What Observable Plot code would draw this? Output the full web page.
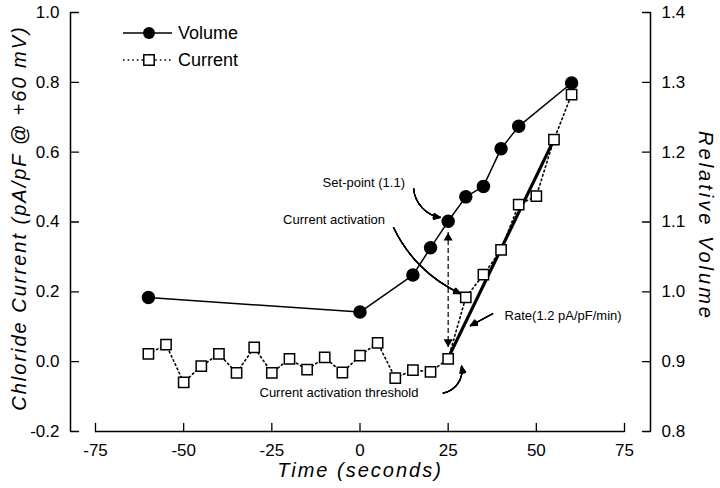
<!DOCTYPE html>
<html><head><meta charset="utf-8">
<script src="https://cdn.jsdelivr.net/npm/d3@7"></script>
<script src="https://cdn.jsdelivr.net/npm/@observablehq/plot@0.6"></script>
<style>
body{margin:0;background:#fff;}
#wrap{position:relative;width:720px;height:488px;font-family:"Liberation Sans",Arial,sans-serif;}
#legend{position:absolute;left:0;top:0;}
</style></head><body>
<div id="wrap"></div>
<script>
// ---- data ----
const currentTime = [-60,-55,-50,-45,-40,-35,-30,-25,-20,-15,-10,-5,0,5,10,15,20,25,30,35,40,45,50,55,60];
const currentValues = [0.022,0.049,-0.059,-0.013,0.022,-0.032,0.041,-0.032,0.008,-0.023,0.012,-0.031,0.017,0.054,-0.047,-0.024,-0.029,0.008,0.184,0.249,0.320,0.450,0.474,0.636,0.765];
const volumeTime = [-60,0,15,20,25,30,35,40,45,60];
const volumeValues = [0.992,0.971,1.024,1.063,1.101,1.136,1.151,1.205,1.237,1.299];
const rateTime = [25,55];
const rateValues = [0.01,0.636];
const xTicks = [-75,-50,-25,0,25,50,75];
const currentTicks = [-0.2,0.0,0.2,0.4,0.6,0.8,1.0];
const volumeTicks = [0.8,0.9,1.0,1.1,1.2,1.3,1.4];
const legendLabels = ["Volume","Current"];
const xTitle = "Time (seconds)";
const yTitle = "Chloride Current (pA/pF @ +60 mV)";
const y2Title = "Relative Volume";
const noteText = ["Set-point (1.1)","Current activation","Rate(1.2 pA/pF/min)","Current activation threshold"];
const noteTime = [-10.6,-21.8,41.0,-28.5];
const noteValue = [0.513,0.407,0.130,-0.088];
// curved / straight arrows: start (t1,c1) -> end (t2,c2)
const arrowT1 = [15.2, 9.5, 23.6, 37.6];
const arrowC1 = [0.496, 0.384, -0.090, 0.137];
const arrowT2 = [22.8, 28.5, 28.8, 31.3];
const arrowC2 = [0.413, 0.195, -0.013, 0.103];
const arrowBend = [-38, -20, -45, 0];
// dashed double arrow between volume set-point and current threshold
const dashT = 25;
const dashTop = 0.370;
const dashBottom = 0.041;

// ---- derived tables ----
const volToY = v => 2 * (v - 0.9);   // right axis (relative volume) -> left axis units
const current = currentTime.map((t,i)=>({t, c: currentValues[i]}));
const volume = volumeTime.map((t,i)=>({t, c: volToY(volumeValues[i])}));
const rate = rateTime.map((t,i)=>({t, c: rateValues[i]}));
const notes = noteText.map((s,i)=>({s, t: noteTime[i], c: noteValue[i]}));
const arrows = arrowT1.map((t,i)=>({t1:t, c1:arrowC1[i], t2:arrowT2[i], c2:arrowC2[i], bend:arrowBend[i]}));

const headFan = [10, 20, 30, 40, 50];
const arrowMarks = [
  Plot.ruleX([dashT], {y1: dashTop, y2: dashBottom, stroke: "black", strokeWidth: 1.2, strokeDasharray: "5,3"}),
  Plot.dot([dashT], {x: d=>d, y: dashTop, symbol: "triangle", r: 3.4, fill: "black", dy: 5.5}),
  Plot.dot([dashT], {x: d=>d, y: dashBottom, symbol: "triangle", r: 3.4, fill: "black", rotate: 180, dy: -5.5})
];
for (const a of headFan) {
  for (const ar of arrows) {
    arrowMarks.push(Plot.arrow([ar], {x1:"t1", y1:"c1", x2:"t2", y2:"c2", bend: ar.bend, stroke:"black", strokeWidth:1.2, headAngle:a, headLength:9}));
  }
}

const tickShape = {draw(context, l) { context.moveTo(0, 0); context.lineTo(0, -l); }};

const font = '"Liberation Sans", Arial, sans-serif';
const chart = Plot.plot({
  width: 720, height: 488,
  marginLeft: 95, marginRight: 96, marginTop: 12, marginBottom: 57,
  style: {fontFamily: font, fontSize: "17px", color: "black", background: "white"},
  x: {domain: [-75, 75]},
  y: {domain: [-0.2, 1.0]},
  marks: [
    // axis lines
    Plot.ruleX([-75], {y1: -0.2, y2: 1.0, dx: -25, stroke: "black", strokeWidth: 1.5}),
    Plot.ruleX([75], {y1: -0.2, y2: 1.0, dx: 26, stroke: "black", strokeWidth: 1.5}),
    Plot.ruleY([-0.2], {x1: -75, x2: 75, stroke: "black", strokeWidth: 1.5}),
    // inward ticks
    Plot.vector(xTicks, {x: d=>d, y: -0.2, length: 8, rotate: 0, anchor: "start", shape: tickShape, stroke: "black", strokeWidth: 1.3}),
    Plot.vector(currentTicks, {x: -75, y: d=>d, dx: -25, length: 8, rotate: 90, anchor: "start", shape: tickShape, stroke: "black", strokeWidth: 1.3}),
    Plot.vector(volumeTicks.map(volToY), {x: 75, y: d=>d, dx: 26, length: 8, rotate: -90, anchor: "start", shape: tickShape, stroke: "black", strokeWidth: 1.3}),
    // tick labels
    Plot.axisX({ticks: xTicks, tickSize: 0, tickPadding: 12, tickFormat: d=>String(d), label: null, fontSize: 17}),
    Plot.axisY({anchor: "left", ticks: currentTicks, tickSize: 0, dx: -25, tickPadding: 11, tickFormat: d=>d.toFixed(1), label: null, fontSize: 17}),
    Plot.axisY({anchor: "right", ticks: volumeTicks.map(volToY), tickSize: 0, dx: 26, tickPadding: 11, tickFormat: d=>(0.9 + d/2).toFixed(1), label: null, fontSize: 17}),
    // axis titles
    Plot.text([xTitle], {text: d=>d, frameAnchor: "bottom", textAnchor: "middle", lineAnchor: "middle", dy: 39, fontStyle: "italic", fontSize: 20}),
    Plot.text([yTitle], {text: d=>d, frameAnchor: "left", textAnchor: "middle", lineAnchor: "middle", rotate: -90, dx: -76, dy: -4, fontStyle: "italic", fontSize: 20}),
    Plot.text([y2Title], {text: d=>d, frameAnchor: "right", textAnchor: "middle", lineAnchor: "middle", rotate: 90, dx: 81, dy: 4, fontStyle: "italic", fontSize: 20}),
    // series lines
    Plot.line(volume, {x: "t", y: "c", stroke: "black", strokeWidth: 1.5}),
    Plot.line(current, {x: "t", y: "c", stroke: "black", strokeWidth: 1.6, strokeDasharray: "1.6,3"}),
    Plot.line(rate, {x: "t", y: "c", stroke: "black", strokeWidth: 3.2}),
    // annotations
    ...arrowMarks,
    Plot.text(notes, {x: "t", y: "c", text: "s", textAnchor: "start", fontSize: 13}),
    // points
    Plot.dot(current, {x: "t", y: "c", symbol: "square", r: 5.8, fill: "white", stroke: "black", strokeWidth: 1.5}),
    Plot.dot(volume, {x: "t", y: "c", r: 6, fill: "black", stroke: "black"})
  ]
});
// widen the axis titles to the reference's spacing
const spacing = new Map([[xTitle, 2], [yTitle, 2.0], [y2Title, 3]]);
d3.select(chart).selectAll("text").each(function() {
  const s = spacing.get(this.textContent);
  if (s != null) this.setAttribute("letter-spacing", s);
});
const wrap = document.getElementById("wrap");
wrap.appendChild(chart);

// legend overlay
const ns = "http://www.w3.org/2000/svg";
const lg = document.createElementNS(ns, "svg");
lg.setAttribute("id","legend"); lg.setAttribute("width","260"); lg.setAttribute("height","80");
const rowY = [33, 60];
legendLabels.forEach((lab, i) => {
  const y = rowY[i];
  const line = document.createElementNS(ns, "line");
  line.setAttribute("x1", 123); line.setAttribute("x2", 172);
  line.setAttribute("y1", y); line.setAttribute("y2", y);
  line.setAttribute("stroke", "black"); line.setAttribute("stroke-width", i === 0 ? 1.5 : 1.6);
  if (i === 1) line.setAttribute("stroke-dasharray", "1.6,3");
  lg.appendChild(line);
  let sym;
  if (i === 0) {
    sym = document.createElementNS(ns, "circle");
    sym.setAttribute("cx", 149); sym.setAttribute("cy", y); sym.setAttribute("r", 6);
    sym.setAttribute("fill", "black");
  } else {
    sym = document.createElementNS(ns, "rect");
    sym.setAttribute("x", 149 - 5.2); sym.setAttribute("y", y - 5.2);
    sym.setAttribute("width", 10.4); sym.setAttribute("height", 10.4);
    sym.setAttribute("fill", "white"); sym.setAttribute("stroke", "black"); sym.setAttribute("stroke-width", 1.5);
  }
  lg.appendChild(sym);
  const tx = document.createElementNS(ns, "text");
  tx.setAttribute("x", 178); tx.setAttribute("y", y + 6.4);
  tx.setAttribute("font-size", 18); tx.setAttribute("font-family", font);
  tx.textContent = lab;
  lg.appendChild(tx);
});
wrap.appendChild(lg);
</script>
</body></html>
